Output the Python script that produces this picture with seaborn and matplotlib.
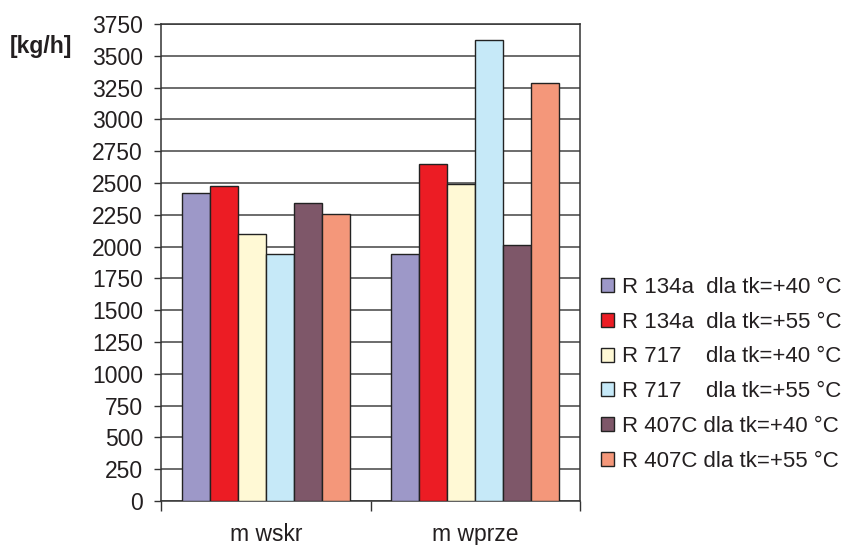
import matplotlib
matplotlib.use("Agg")
import matplotlib.pyplot as plt
from matplotlib.patches import Patch
import seaborn as sns
import pandas as pd

categories = ["m wskr", "m wprze"]
series = [
    "R 134a  dla tk=+40 °C",
    "R 134a  dla tk=+55 °C",
    "R 717    dla tk=+40 °C",
    "R 717    dla tk=+55 °C",
    "R 407C dla tk=+40 °C",
    "R 407C dla tk=+55 °C",
]
values_wskr = [2418, 2473, 2100, 1943, 2339, 2258]
values_wprze = [1943, 2651, 2489, 3622, 2011, 3283]
colors = ["#9D98C8", "#EC1C24", "#FFF9D5", "#C6E9F8", "#7E5769", "#F4977A"]
yticks = list(range(0, 3751, 250))

rows = []
for s, a, b in zip(series, values_wskr, values_wprze):
    rows.append({"kat": categories[0], "seria": s, "val": a})
    rows.append({"kat": categories[1], "seria": s, "val": b})
df = pd.DataFrame(rows)

sns.set_theme(style="white")
plt.rcParams["font.family"] = ["Liberation Sans", "DejaVu Sans"]

fig = plt.figure(figsize=(8.47, 5.45), dpi=100)
ax = fig.add_axes([161 / 847, 1 - 501 / 545, (580 - 161) / 847, (501 - 24) / 545])

sns.barplot(data=df, x="kat", y="val", hue="seria", order=categories,
            hue_order=series, palette=colors, width=0.8, saturation=1,
            edgecolor="#222222", linewidth=1.0, ax=ax, legend=False, zorder=3)

ax.set_xlim(-0.5, 1.5)
ax.set_ylim(0, 3750)
ax.set_yticks(yticks)
ax.set_yticklabels([str(t) for t in yticks])
ax.set_xlabel("")
ax.set_ylabel("")
ax.yaxis.grid(True, color="#444444", linewidth=1.1, zorder=0)
ax.set_axisbelow(True)
for sp in ax.spines.values():
    sp.set_color("#333333")
    sp.set_linewidth(1.1)
    sp.set_visible(True)

ax.tick_params(axis="y", which="major", left=True, length=5, width=1,
               color="#333333", labelsize=16.5, pad=8, labelcolor="#231F20")
ax.tick_params(axis="x", which="major", bottom=False, length=0,
               labelsize=16.5, pad=16, labelcolor="#231F20")
ax.set_xticks([-0.5, 0.5, 1.5], minor=True)
ax.tick_params(axis="x", which="minor", bottom=True, length=7, width=1,
               color="#333333")

fig.text(10 / 847, 1 - 46 / 545, "[kg/h]", fontsize=16.5, fontweight="bold",
         color="#231F20", va="center", ha="left")

handles = [Patch(facecolor=c, edgecolor="#222222", linewidth=1.0) for c in colors]
fig.legend(handles, series, loc="upper left",
           bbox_to_anchor=(592 / 847, 1 - 268 / 545), frameon=False,
           fontsize=16, handlelength=0.6, handleheight=0.6,
           handletextpad=0.35, labelspacing=0.62, borderaxespad=0,
           labelcolor="#231F20")

fig.savefig("out.png", dpi=100, facecolor="white")
